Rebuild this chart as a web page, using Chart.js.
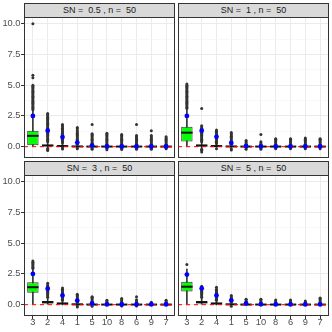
<!DOCTYPE html>
<html>
<head>
<meta charset="utf-8">
<script src="https://cdn.jsdelivr.net/npm/chart.js@4.4.0/dist/chart.umd.min.js"></script>
<style>
html,body{margin:0;padding:0;background:#fff}
#wrap{position:relative;width:332px;height:332px;overflow:hidden;background:#fff}
#wrap canvas{position:absolute}
.strip{position:absolute;box-sizing:border-box;height:15px;width:151px;background:#D9D9D9;border:1px solid #333;
  font:9px "Liberation Sans",Arial,sans-serif;color:#1A1A1A;text-align:center;line-height:13px;white-space:pre;z-index:2}
</style>
</head>
<body>
<div id="wrap">
  <div class="strip" style="left:24px;top:3px">SN =  0.5 , n =  50</div>
  <div class="strip" style="left:178px;top:3px">SN =  1 , n =  50</div>
  <div class="strip" style="left:24px;top:161px">SN =  3 , n =  50</div>
  <div class="strip" style="left:178px;top:161px">SN =  5 , n =  50</div>
  <canvas id="p1" style="left:0;top:17px"></canvas>
  <canvas id="p2" style="left:178px;top:17px"></canvas>
  <canvas id="p3" style="left:0;top:175px"></canvas>
  <canvas id="p4" style="left:178px;top:175px"></canvas>
</div>
<script>
const categories = ['3','2','4','1','5','10','8','6','9','7'];
const yMajor = [0, 2.5, 5, 7.5, 10];
const yMinor = [1.25, 3.75, 6.25, 8.75];
const refLineY = 0;

// [lower whisker, q1, median, q3, upper whisker]
const sn05Box = [
  [0.0, 0.12, 0.88, 1.3, 2.9],
  [-0.08, 0.03, 0.1, 0.16, 0.32],
  [-0.06, 0.0, 0.05, 0.1, 0.22],
  [-0.05, -0.01, 0.02, 0.06, 0.14],
  [-0.04, -0.01, 0.01, 0.03, 0.09],
  [-0.04, -0.01, 0.01, 0.03, 0.08],
  [-0.04, -0.01, 0.01, 0.03, 0.08],
  [-0.04, -0.01, 0.01, 0.03, 0.08],
  [-0.04, -0.01, 0.01, 0.03, 0.08],
  [-0.04, -0.01, 0.01, 0.03, 0.08]
];
const sn05Mean = [2.5, 1.3, 0.78, 0.33, 0.1, 0.02, 0.02, 0.02, 0.02, 0.02];
const sn05Out = [
  [3.0,3.1,3.2,3.3,3.4,3.5,3.6,3.7,3.8,3.9,4.0,4.1,4.2,4.3,4.4,4.5,4.6,4.7,4.8,4.9,5.0,5.6,5.8,10.0],
  [-0.32,-0.22,-0.14,0.4,0.5,0.6,0.7,0.8,0.9,1.0,1.1,1.2,1.3,1.4,1.5,1.6,1.7,1.8,1.9,2.0,2.1,2.2,2.3,2.4,2.5,2.6,2.7],
  [-0.18,-0.1,0.3,0.4,0.5,0.6,0.7,0.8,0.9,1.0,1.1,1.2,1.3,1.4,1.5,1.6,1.7,1.8],
  [-0.16,-0.1,0.2,0.3,0.4,0.5,0.6,0.7,0.8,0.9,1.0,1.1,1.2,1.3,1.45,1.55],
  [-0.2,-0.12,0.12,0.2,0.3,0.4,0.5,0.6,0.7,0.8,0.9,1.0,1.05,1.8],
  [-0.24,-0.14,0.12,0.2,0.3,0.4,0.5,0.6,0.7,0.8,0.9,1.0,1.1],
  [-0.22,-0.12,0.12,0.2,0.3,0.4,0.5,0.6,0.7,0.8,0.9,0.98],
  [-0.2,-0.12,0.12,0.2,0.3,0.4,0.5,0.6,0.7,0.8,0.9,1.8],
  [-0.2,-0.12,0.12,0.2,0.3,0.4,0.5,0.6,0.7,0.8,0.9,1.3],
  [-0.16,-0.1,0.12,0.2,0.3,0.4,0.5,0.6,0.7,0.8]
];

const sn1Box = [
  [0.0, 0.43, 1.14, 1.63, 3.0],
  [-0.12, 0.02, 0.1, 0.16, 0.35],
  [-0.06, 0.01, 0.05, 0.1, 0.2],
  [-0.05, -0.01, 0.02, 0.05, 0.12],
  [-0.04, -0.01, 0.01, 0.03, 0.08],
  [-0.04, -0.01, 0.01, 0.03, 0.08],
  [-0.04, -0.01, 0.01, 0.03, 0.08],
  [-0.04, -0.01, 0.01, 0.03, 0.08],
  [-0.04, -0.01, 0.01, 0.03, 0.08],
  [-0.04, -0.01, 0.01, 0.03, 0.08]
];
const sn1Mean = [2.5, 1.3, 0.8, 0.3, 0.05, 0.02, 0.02, 0.02, 0.02, 0.02];
const sn1Out = [
  [3.1,3.2,3.3,3.4,3.5,3.6,3.7,3.8,3.9,4.0,4.1,4.2,4.3,4.4,4.5,4.6,4.7,4.8,4.9,5.0,5.1],
  [-0.43,-0.3,-0.2,0.4,0.5,0.6,0.7,0.8,0.9,1.0,1.1,1.2,1.3,1.4,1.5,1.6,1.7,3.1],
  [-0.16,0.25,0.35,0.45,0.55,0.65,0.75,0.85,0.95,1.05,1.15,1.25,1.35],
  [-0.26,-0.16,0.15,0.25,0.35,0.45,0.55,0.65,0.75,0.85,0.95,1.05,1.15],
  [-0.2,-0.1,0.12,0.2,0.3,0.4,0.5],
  [-0.2,-0.1,0.12,0.2,0.3,0.4,1.0],
  [-0.16,0.12,0.2,0.3,0.4,0.5,0.6,0.65],
  [-0.16,0.12,0.2,0.3,0.4,0.5,0.6,0.65],
  [-0.16,0.12,0.2,0.3,0.4,0.5,0.6,0.7],
  [-0.16,0.12,0.2,0.3,0.4,0.5,0.6,0.65]
];

const sn3Box = [
  [0.0, 0.97, 1.42, 1.83, 2.9],
  [0.0, 0.1, 0.2, 0.3, 0.55],
  [-0.02, 0.05, 0.1, 0.15, 0.3],
  [-0.05, 0.0, 0.03, 0.06, 0.14],
  [-0.04, -0.01, 0.01, 0.03, 0.08],
  [-0.04, -0.01, 0.01, 0.03, 0.08],
  [-0.04, -0.01, 0.01, 0.03, 0.08],
  [-0.04, -0.01, 0.01, 0.03, 0.08],
  [-0.04, -0.01, 0.01, 0.03, 0.08],
  [-0.04, -0.01, 0.01, 0.03, 0.08]
];
const sn3Mean = [2.5, 1.3, 0.75, 0.33, 0.1, 0.02, 0.02, 0.02, 0.02, 0.02];
const sn3Out = [
  [2.95,3.05,3.15,3.25,3.35,3.45,3.55],
  [0.6,0.7,0.8,0.9,1.0,1.1,1.2,1.3,1.4,1.5,1.6,1.75],
  [0.35,0.45,0.55,0.65,0.75,0.85,0.95,1.05,1.15,1.25,1.35],
  [-0.18,-0.1,0.18,0.25,0.35,0.45,0.55,0.65,0.75,0.85],
  [-0.12,0.12,0.2,0.3,0.4,0.5,0.6,0.65],
  [0.12,0.2,0.3,0.35],
  [-0.1,0.12,0.2,0.3,0.4,0.5],
  [-0.1,0.12,0.2,0.3,0.4,0.65],
  [0.12,0.2],
  [0.12,0.2,0.3,0.35]
];

const sn5Box = [
  [0.0, 1.08, 1.46, 1.86, 2.9],
  [0.0, 0.1, 0.2, 0.3, 0.55],
  [-0.02, 0.05, 0.1, 0.15, 0.3],
  [-0.05, 0.0, 0.03, 0.06, 0.14],
  [-0.04, -0.01, 0.01, 0.03, 0.08],
  [-0.04, -0.01, 0.01, 0.03, 0.08],
  [-0.04, -0.01, 0.01, 0.03, 0.08],
  [-0.04, -0.01, 0.01, 0.03, 0.08],
  [-0.04, -0.01, 0.01, 0.03, 0.08],
  [-0.04, -0.01, 0.01, 0.03, 0.08]
];
const sn5Mean = [2.45, 1.32, 0.75, 0.35, 0.1, 0.03, 0.02, 0.02, 0.02, 0.02];
const sn5Out = [
  [3.26],
  [0.6,0.7,0.8,0.9,1.0,1.1,1.2,1.3,1.4,1.5],
  [0.35,0.45,0.55,0.65,0.75,0.85,0.95,1.05,1.15,1.25,1.42],
  [-0.12,0.18,0.25,0.35,0.45,0.55,0.65,0.75],
  [0.12,0.2,0.3,0.4,0.45],
  [0.12,0.2,0.3,0.4,0.45],
  [0.12,0.2,0.3,0.38],
  [0.12,0.2,0.3,0.38],
  [0.12,0.2,0.3],
  [0.12,0.2,0.3,0.4,0.5,0.55]
];

const X_MIN = 0.4, X_MAX = categories.length + 0.6;
const Y_MIN = -0.92, Y_MAX = 10.54;
const FONT = {family: '"Liberation Sans", Arial, sans-serif', size: 9.3};

// ggplot-ish panel border (theme_bw)
const panelBorder = {
  id: 'panelBorder',
  afterDraw(c){
    const a = c.chartArea, ctx = c.ctx;
    ctx.save();
    ctx.strokeStyle = '#333333';
    ctx.lineWidth = 1;
    ctx.strokeRect(a.left+0.5, a.top+0.5, a.width-1, a.height-1);
    ctx.restore();
  }
};

function makePanel(id, box, means, outs, showY, showX, w, h){
  const cv = document.getElementById(id);
  cv.width = w; cv.height = h;
  cv.style.width = w+'px'; cv.style.height = h+'px';
  const xs = categories.map((c,i)=>i+1);
  const outPts = [];
  outs.forEach((arr,i)=>arr.forEach(v=>outPts.push({x:i+1, y:v})));
  const isMajor = v => yMajor.includes(v);

  return new Chart(cv, {
    type: 'scatter',
    data: {
      datasets: [
        { type:'bar', data: box.map((s,i)=>({x:xs[i], y:[s[0], s[4]]})),
          backgroundColor:'#333333', barThickness:1, grouped:false, order:6 },
        { type:'bar', data: box.map((s,i)=>({x:xs[i], y:[s[1], s[3]]})),
          backgroundColor:'#00FF00', borderColor:'#333333', borderWidth:1, borderSkipped:false,
          barPercentage:0.77, categoryPercentage:1, grouped:false, order:5 },
        { type:'scatter', data: box.map((s,i)=>({x:xs[i], y:s[2]})),
          pointStyle:'line', pointRadius:5.7, borderColor:'#111', borderWidth:2, order:4 },
        { type:'line', data:[{x:X_MIN, y:refLineY},{x:X_MAX, y:refLineY}],
          borderColor:'#FF0000', borderWidth:1, borderDash:[4,4], pointRadius:0, order:3 },
        { type:'scatter', data: outPts, pointRadius:1.5, backgroundColor:'#333333', borderWidth:0, order:2 },
        { type:'scatter', data: means.map((m,i)=>({x:xs[i], y:m})),
          pointRadius:2.4, backgroundColor:'#0000FF', borderWidth:0, order:1 }
      ]
    },
    options: {
      responsive:false, animation:false, events:[],
      layout:{padding:0, autoPadding:false},
      plugins:{legend:{display:false}, tooltip:{enabled:false}},
      scales:{
        x:{
          type:'linear', min:X_MIN, max:X_MAX, offset:false,
          afterBuildTicks: s => { s.ticks = xs.map(v=>({value:v})); },
          afterFit: s => { s.height = showX ? 16 : 0; s.paddingLeft = 0; s.paddingRight = 0; },
          ticks:{display:showX, color:'#4D4D4D', font:FONT, padding:-2, maxRotation:0, autoSkip:false,
            callback: v => categories[v-1] || ''},
          grid:{color:'#EBEBEB', lineWidth:1, offset:false, drawTicks:showX, tickLength:3, tickColor:'#333333'},
          border:{display:false}
        },
        y:{
          min:Y_MIN, max:Y_MAX,
          afterBuildTicks: s => { s.ticks = yMajor.concat(yMinor).sort((a,b)=>a-b).map(v=>({value:v})); },
          afterFit: s => { s.width = showY ? 24 : 0; s.paddingTop = 0; s.paddingBottom = 0; },
          ticks:{display:showY, color:'#4D4D4D', font:FONT, padding:0.5,
            callback: v => isMajor(v) ? v.toFixed(1) : ''},
          grid:{
            color: c => c.tick && isMajor(c.tick.value) ? '#EBEBEB' : '#F4F4F4',
            lineWidth: c => c.tick && isMajor(c.tick.value) ? 1 : 0.6,
            drawTicks:showY, tickLength:3,
            tickColor: c => c.tick && isMajor(c.tick.value) ? '#333333' : 'rgba(0,0,0,0)'
          },
          border:{display:false}
        }
      }
    },
    plugins:[panelBorder]
  });
}

makePanel('p1', sn05Box, sn05Mean, sn05Out, true, false, 175, 141);
makePanel('p2', sn1Box, sn1Mean, sn1Out, false, false, 151, 141);
makePanel('p3', sn3Box, sn3Mean, sn3Out, true, true, 175, 157);
makePanel('p4', sn5Box, sn5Mean, sn5Out, false, true, 151, 157);
</script>
</body>
</html>
